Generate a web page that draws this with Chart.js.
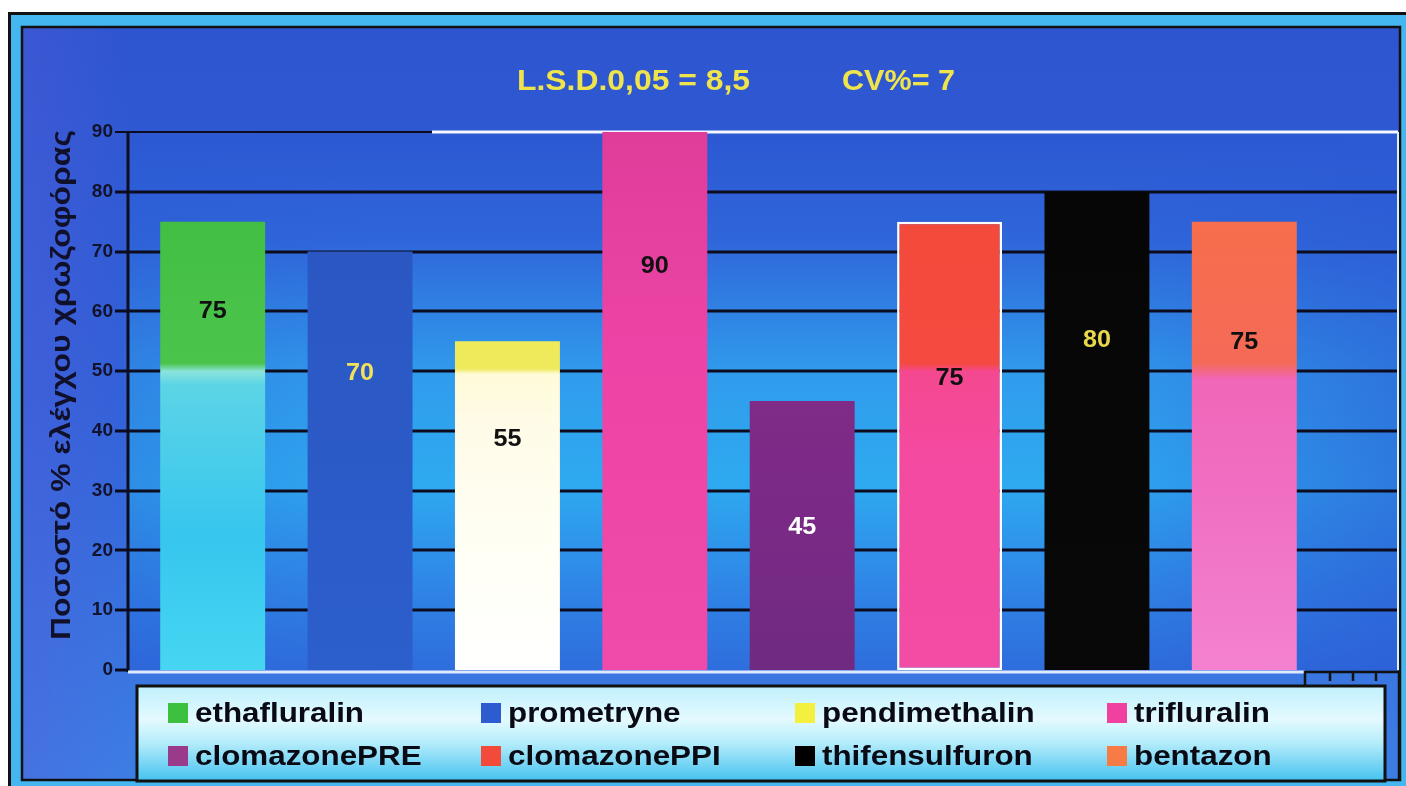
<!DOCTYPE html>
<html>
<head>
<meta charset="utf-8">
<script src="https://cdn.jsdelivr.net/npm/chart.js@4.4.0/dist/chart.umd.min.js"></script>
<style>
    html, body { margin: 0; padding: 0; background: #fff; overflow: hidden; }
    #wrap { width: 1406px; height: 786px; position: relative; }
</style>
</head>
<body>
<div id="wrap"><canvas id="chart" width="1406" height="786"></canvas></div>
<script>
// δεδομένα
const categories = ['ethafluralin', 'prometryne', 'pendimethalin', 'trifluralin',
    'clomazonePRE', 'clomazonePPI', 'thifensulfuron', 'bentazon'];
const controlPct = [75, 70, 55, 90, 45, 75, 80, 75];
const yMin = 0, yMax = 90, yStep = 10;
const statsText = ['L.S.D.0,05 = 8,5', 'CV%= 7'];
const yTitle = 'Ποσοστό % ελέγχου χρωζοφόρας';

const FONT = '"Liberation Sans", Arial, sans-serif';

// χρώματα (στυλ)
const swatchColors = ['#3cc040', '#2c5cd0', '#f4f040', '#f040a0', '#9a3a8a', '#f44a3a', '#000000', '#f87a44'];
const valueColors = ['#111', '#f2e25a', '#111', '#111', '#fff', '#111', '#e8d84a', '#111'];
const labelFrac = [0.80, 0.71, 0.70, 0.75, 0.53, 0.65, 0.69, 0.73];
// gradient stops, 0 = top of plot (90), 1 = bottom (0)
const barStops = [
    [[0, '#3cbc3c'], [0.43, '#4cc44c'], [0.445, '#8ae4dc'], [0.47, '#5cd4e6'], [0.75, '#36c6ee'], [1, '#46d6f2']],
    [[0, '#2a55c0'], [1, '#2c5ecc']],
    [[0, '#f2f050'], [0.44, '#eeea5c'], [0.45, '#fffbd8'], [0.55, '#fffbe8'], [0.8, '#fffff6'], [1, '#ffffff']],
    [[0, '#e03c9a'], [0.4, '#ec44a6'], [1, '#f04aaa']],
    [[0, '#8c2c8c'], [0.7, '#7a2a86'], [1, '#702a80']],
    [[0, '#f44a38'], [0.43, '#f44a40'], [0.445, '#f44890'], [0.6, '#f44aa0'], [1, '#f24ca4']],
    [[0, '#060606'], [1, '#080808']],
    [[0, '#f87044'], [0.43, '#f46a58'], [0.46, '#f066b8'], [0.7, '#f070c4'], [1, '#f482d0']]
];

let barFill = (ctx) => {
    let chart = ctx.chart;
    let area = chart.chartArea;
    let i = ctx.dataIndex;
    if (!area || i === undefined) return swatchColors[i || 0];
    let g = chart.ctx.createLinearGradient(0, area.top, 0, area.bottom);
    barStops[i].forEach(s => g.addColorStop(s[0], s[1]));
    return g;
};

let stretchText = (ctx, text, x, y, sx, align) => {
    ctx.save();
    ctx.translate(x, y);
    ctx.scale(sx, 1);
    ctx.textAlign = align || 'left';
    ctx.fillText(text, 0, 0);
    ctx.restore();
};

// φόντο, πλαίσια, γραμμές
const backdrop = {
    id: 'backdrop',
    beforeDraw(chart) {
        let ctx = chart.ctx;
        let y = chart.scales.y;
        ctx.save();
        ctx.fillStyle = '#fff';
        ctx.fillRect(0, 0, 1406, 786);
        // outer strip
        ctx.fillStyle = '#44b6f0';
        ctx.fillRect(8, 12, 1398, 774);
        ctx.fillStyle = '#111';
        ctx.fillRect(8, 12, 1398, 3);
        ctx.fillRect(8, 12, 3, 774);
        // inner panel
        let g = ctx.createLinearGradient(0, 27, 0, 780);
        g.addColorStop(0, '#2d55cf');
        g.addColorStop(0.5, '#3262d8');
        g.addColorStop(1, '#3c7ee4');
        ctx.fillStyle = g;
        ctx.fillRect(22, 27, 1378, 753);
        let gl = ctx.createLinearGradient(22, 0, 130, 0);
        gl.addColorStop(0, 'rgba(90,90,220,0.35)');
        gl.addColorStop(1, 'rgba(90,90,220,0)');
        ctx.fillStyle = gl;
        ctx.fillRect(22, 27, 108, 753);
        ctx.strokeStyle = '#111';
        ctx.lineWidth = 2.5;
        ctx.strokeRect(22, 27, 1378, 753);

        // plot background
        let top = y.getPixelForValue(yMax), bot = y.getPixelForValue(yMin) + 2;
        let pg = ctx.createLinearGradient(0, top, 0, bot);
        pg.addColorStop(0, '#2c58d2');
        pg.addColorStop(0.2, '#2f66da');
        pg.addColorStop(0.45, '#309cec');
        pg.addColorStop(0.65, '#2eaaf0');
        pg.addColorStop(0.85, '#2f84e6');
        pg.addColorStop(1, '#2e6cdc');
        ctx.fillStyle = pg;
        ctx.fillRect(128, top, 1270, bot - top);
        let ph = ctx.createLinearGradient(128, 0, 1398, 0);
        ph.addColorStop(0, 'rgba(44,90,212,0.35)');
        ph.addColorStop(0.2, 'rgba(44,90,212,0)');
        ph.addColorStop(0.75, 'rgba(44,90,212,0)');
        ph.addColorStop(1, 'rgba(44,90,212,0.6)');
        ctx.fillStyle = ph;
        ctx.fillRect(128, top, 1270, bot - top);
        ctx.restore();
    },
    beforeDatasetsDraw(chart) {
        let ctx = chart.ctx;
        let y = chart.scales.y;
        ctx.save();
        y.ticks.forEach(t => {
            let py = Math.round(y.getPixelForValue(t.value));
            ctx.lineWidth = 3;
            ctx.strokeStyle = '#0c0c1e';
            ctx.beginPath();
            if (t.value === yMax) {
                ctx.lineWidth = 2;
                ctx.moveTo(115, py); ctx.lineTo(432, py);
                ctx.stroke();
                ctx.strokeStyle = '#f4f8ff';
                ctx.lineWidth = 3;
                ctx.beginPath();
                ctx.moveTo(432, py); ctx.lineTo(1398, py);
            } else if (t.value === yMin) {
                ctx.moveTo(115, py); ctx.lineTo(128, py);
            } else {
                ctx.moveTo(115, py); ctx.lineTo(1398, py);
            }
            ctx.stroke();
        });
        // axis frame
        let top = y.getPixelForValue(yMax), bot = y.getPixelForValue(yMin);
        ctx.strokeStyle = '#0c0c1e';
        ctx.lineWidth = 3;
        ctx.beginPath();
        ctx.moveTo(128, top); ctx.lineTo(128, bot + 2);
        ctx.stroke();
        ctx.strokeStyle = '#dfeaff';
        ctx.beginPath();
        ctx.moveTo(128, bot + 2); ctx.lineTo(1305, bot + 2);
        ctx.stroke();
        ctx.strokeStyle = '#d8f0ff';
        ctx.lineWidth = 2;
        ctx.beginPath();
        ctx.moveTo(1398, top); ctx.lineTo(1398, bot);
        ctx.stroke();
        // small leftover axis box bottom right
        ctx.strokeStyle = '#111';
        ctx.lineWidth = 2.5;
        ctx.beginPath();
        ctx.moveTo(1305, bot + 16); ctx.lineTo(1305, bot + 2); ctx.lineTo(1399, bot + 2); ctx.lineTo(1399, 780);
        [1330, 1353, 1376].forEach(x => { ctx.moveTo(x, bot + 2); ctx.lineTo(x, bot + 11); });
        ctx.stroke();
        ctx.restore();
    },
    afterDatasetsDraw(chart) {
        let ctx = chart.ctx;
        let y = chart.scales.y;
        let meta = chart.getDatasetMeta(0);
        ctx.save();
        ctx.font = 'bold 24px ' + FONT;
        ctx.textBaseline = 'middle';
        meta.data.forEach((bar, i) => {
            ctx.fillStyle = valueColors[i];
            stretchText(ctx, String(controlPct[i]), bar.x, y.getPixelForValue(controlPct[i] * labelFrac[i]), 1.05, 'center');
        });
        ctx.restore();
    },
    afterDraw(chart) {
        let ctx = chart.ctx;
        ctx.save();
        // stats line
        ctx.fillStyle = '#f0e44c';
        ctx.font = 'bold 30px ' + FONT;
        ctx.textBaseline = 'middle';
        let w1 = ctx.measureText(statsText[0]).width;
        stretchText(ctx, statsText[0], 517, 82, 233 / w1);
        let w2 = ctx.measureText(statsText[1]).width;
        stretchText(ctx, statsText[1], 842, 82, 113 / w2);

        // y title
        ctx.fillStyle = '#10102a';
        ctx.font = 'bold 28px ' + FONT;
        ctx.save();
        ctx.translate(62, 385);
        ctx.rotate(-Math.PI / 2);
        let wt = ctx.measureText(yTitle).width;
        stretchText(ctx, yTitle, 0, 0, 510 / wt, 'center');
        ctx.restore();

        // legend box
        let lg = ctx.createLinearGradient(0, 686, 0, 781);
        lg.addColorStop(0, '#bff0fc');
        lg.addColorStop(0.35, '#e4faff');
        lg.addColorStop(0.6, '#b4ecfa');
        lg.addColorStop(1, '#44c2f0');
        ctx.fillStyle = lg;
        ctx.fillRect(137, 686, 1248, 95);
        ctx.strokeStyle = '#111';
        ctx.lineWidth = 3;
        ctx.strokeRect(137, 686, 1248, 95);
        let colX = [168, 481, 795, 1107];
        let rowY = [713, 756];
        ctx.font = 'bold 28px ' + FONT;
        ctx.textBaseline = 'middle';
        categories.forEach((name, i) => {
            let cx = colX[i % 4], cy = rowY[Math.floor(i / 4)];
            ctx.fillStyle = swatchColors[i];
            ctx.fillRect(cx, cy - 10, 20, 20);
            ctx.fillStyle = '#0a0a14';
            stretchText(ctx, name, cx + 27, cy + 1, 1.12);
        });
        ctx.restore();
    }
};

new Chart(document.getElementById('chart'), {
    type: 'bar',
    data: {
        labels: categories,
        datasets: [{
            label: yTitle,
            data: controlPct,
            backgroundColor: barFill,
            borderColor: categories.map((c, i) => i === 5 ? '#ffffff' : 'rgba(0,0,0,0)'),
            borderWidth: categories.map((c, i) => i === 5 ? 2.5 : 0),
            borderSkipped: false,
            categoryPercentage: 1,
            barPercentage: 0.712
        }]
    },
    options: {
        responsive: false,
        animation: false,
        devicePixelRatio: 1,
        layout: { padding: { top: 132, bottom: 116, right: 88, left: 0 } },
        plugins: {
            legend: { display: false },
            title: { display: false },
            tooltip: { enabled: false }
        },
        scales: {
            x: { display: false },
            y: {
                min: yMin,
                max: yMax,
                afterFit: (scale) => { scale.width = 139; },
                grid: { display: false, drawTicks: false },
                border: { display: false },
                ticks: {
                    stepSize: yStep,
                    padding: 26,
                    color: '#12122a',
                    font: { family: FONT, size: 19, weight: 'bold' }
                }
            }
        }
    },
    plugins: [backdrop]
});
</script>
</body>
</html>
